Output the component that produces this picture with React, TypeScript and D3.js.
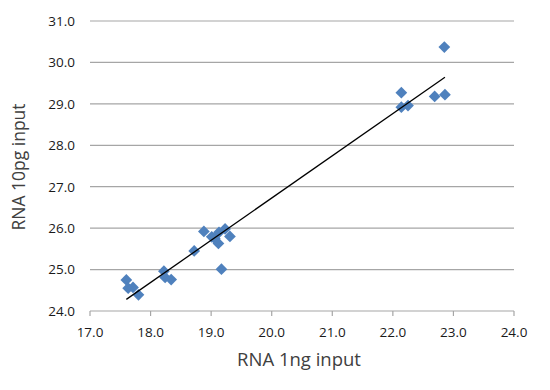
import * as d3 from 'd3';

const xs = [17.6, 17.63, 17.71, 17.8, 18.22, 18.24, 18.34, 18.72, 18.88, 19.01, 19.06, 19.13, 19.12, 19.23, 19.31, 19.17, 22.14, 22.14, 22.25, 22.69, 22.86, 22.85];
const ys = [24.75, 24.55, 24.57, 24.39, 24.96, 24.81, 24.76, 25.45, 25.92, 25.79, 25.75, 25.9, 25.63, 25.98, 25.8, 25.01, 29.27, 28.92, 28.96, 29.18, 29.22, 30.37];
const xTicks = [17, 18, 19, 20, 21, 22, 23, 24];
const yTicks = [24, 25, 26, 27, 28, 29, 30, 31];

const W = 550, H = 390;
const left = 90, right = 514, top = 21, bottom = 311;
const font = "'Open Sans', sans-serif";

export default function App() {
	const x = d3.scaleLinear().domain([17, 24]).range([left, right]);
	const y = d3.scaleLinear().domain([24, 31]).range([bottom, top]);

	// least squares trendline
	const mx = d3.mean(xs)!, my = d3.mean(ys)!;
	const slope = d3.sum(xs, (v, i) => (v - mx) * (ys[i] - my)) / d3.sum(xs, v => (v - mx) ** 2);
	const icpt = my - slope * mx;
	const [x0, x1] = d3.extent(xs) as [number, number];

	const diamond = d3.symbol().type(d3.symbolDiamond2).size(88);

	return (
		<svg width={W} height={H} style={{ position: 'absolute', left: 0, top: 0, background: '#fff' }}>
			{yTicks.map(t => (
				<g key={t}>
					<line x1={left} x2={right} y1={y(t)} y2={y(t)} stroke='#a6a6a6' strokeWidth={1.2} />
					<text x={75} y={y(t)} dy='0.36em' textAnchor='end' fontFamily={font} fontSize={13.5} fill='#1a1a1a'>{t.toFixed(1)}</text>
				</g>
			))}
			{xTicks.map(t => (
				<g key={t}>
					<line x1={x(t)} x2={x(t)} y1={bottom} y2={bottom + 5} stroke='#a6a6a6' strokeWidth={1.2} />
					<text x={x(t)} y={337} textAnchor='middle' fontFamily={font} fontSize={13.5} fill='#1a1a1a'>{t.toFixed(1)}</text>
				</g>
			))}
			{xs.map((v, i) => (
				<path key={i} d={diamond()!} transform={`translate(${x(v)},${y(ys[i])})`} fill='#4f81bd' />
			))}
			<line x1={x(x0)} y1={y(slope * x0 + icpt)} x2={x(x1)} y2={y(slope * x1 + icpt)} stroke='#000' strokeWidth={1.3} />
			<text x={299} y={366} textAnchor='middle' fontFamily={font} fontSize={18.5} fill='#404040'>RNA 1ng input</text>
			<text transform='translate(25,167) rotate(-90)' textAnchor='middle' fontFamily={font} fontSize={17.5} fill='#404040'>RNA 10pg input</text>
		</svg>
	);
}
